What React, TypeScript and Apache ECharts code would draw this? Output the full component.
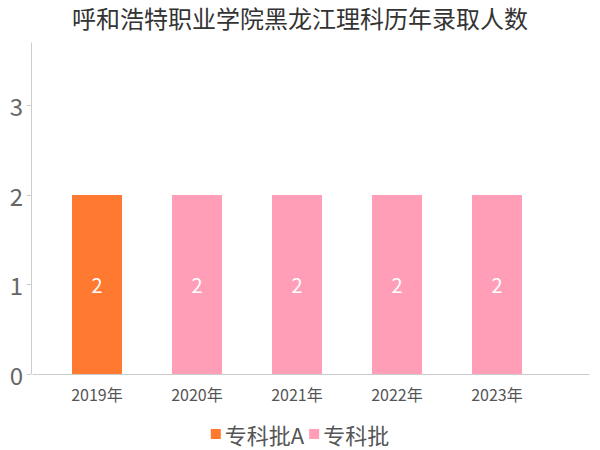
import React, { useEffect, useRef } from "react";
import * as echarts from "echarts";

const title = "呼和浩特职业学院黑龙江理科历年录取人数";
const categories = ["2019年", "2020年", "2021年", "2022年", "2023年"];
const seriesNames = ["专科批A", "专科批"];
const seriesA: (number | string)[] = [2, "-", "-", "-", "-"];
const seriesB: (number | string)[] = ["-", 2, 2, 2, 2];
const colors = ["#FF7A30", "#FF9EB6"];
const yMax = 3.7;

const FONT = "'Noto Sans CJK SC', 'Noto Sans', sans-serif";

export default function App() {
  const ref = useRef<HTMLDivElement>(null);
  useEffect(() => {
    if (!ref.current) return;
    const chart = echarts.init(ref.current, undefined, { renderer: "svg" });
    chart.setOption({
      animation: false,
      textStyle: { fontFamily: FONT },
      title: {
        text: title,
        left: "center",
        top: 0,
        textStyle: { fontSize: 24, fontWeight: "normal", color: "#333", fontFamily: FONT },
      },
      legend: {
        top: 422,
        left: "center",
        padding: 0,
        itemWidth: 10,
        itemHeight: 10,
        itemGap: 5,
        icon: "rect",
        textStyle: { fontSize: 22, lineHeight: 24, color: "#555", fontFamily: FONT, padding: [0, 0, 0, -1] },
        data: seriesNames,
      },
      grid: [
        { left: 47, right: 53, top: 43, bottom: 76 },
        { left: 33, right: 11, top: 43, bottom: 76 },
      ],
      xAxis: [
        {
          type: "category",
          gridIndex: 0,
          data: categories,
          offset: 5,
          axisLine: { show: false },
          axisTick: { show: true, alignWithLabel: true, length: 4, inside: true, lineStyle: { color: "#bbb" } },
          axisLabel: { fontSize: 16, color: "#555", margin: 7, fontFamily: FONT },
        },
        {
          type: "value",
          gridIndex: 1,
          offset: 5,
          axisLine: { show: true, lineStyle: { color: "#ccc" } },
          axisTick: { show: false },
          axisLabel: { show: false },
          splitLine: { show: false },
        },
      ],
      yAxis: [
        {
          type: "value",
          gridIndex: 0,
          min: 0,
          max: yMax,
          interval: 1,
          offset: 16,
          axisLine: { show: true, lineStyle: { color: "#ccc" } },
          axisTick: { show: true, length: 4, lineStyle: { color: "#ccc" } },
          axisLabel: { fontSize: 24, color: "#666", margin: 8, fontFamily: FONT, showMaxLabel: false },
          splitLine: { show: false },
        },
        {
          type: "value",
          gridIndex: 1,
          show: false,
        },
      ],
      series: [
        {
          name: seriesNames[0],
          type: "bar",
          stack: "total",
          xAxisIndex: 0,
          yAxisIndex: 0,
          barWidth: 50,
          data: seriesA,
          itemStyle: { color: colors[0] },
          label: { show: true, position: "inside", color: "#fff", fontSize: 20, fontFamily: FONT },
        },
        {
          name: seriesNames[1],
          type: "bar",
          stack: "total",
          xAxisIndex: 0,
          yAxisIndex: 0,
          barWidth: 50,
          data: seriesB,
          itemStyle: { color: colors[1] },
          label: { show: true, position: "inside", color: "#fff", fontSize: 20, fontFamily: FONT },
        },
      ],
    });
    return () => chart.dispose();
  }, []);
  return <div ref={ref} style={{ position: "absolute", left: 0, top: 0, width: 600, height: 450 }} />;
}
